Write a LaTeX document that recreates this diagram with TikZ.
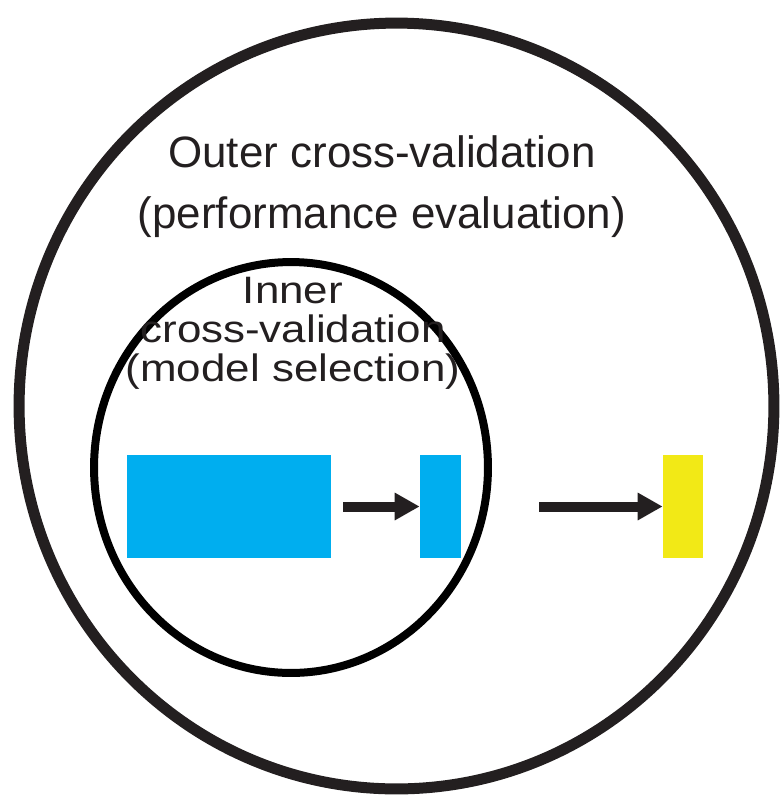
\documentclass[tikz,border=0pt]{standalone}
\usepackage{fontspec}
\setmainfont{Liberation Sans}
\usepackage{tikz}
\usetikzlibrary{arrows.meta,shapes.geometric,positioning}
\definecolor{cvblue}{RGB}{0,174,239}
\definecolor{cvyellow}{RGB}{242,233,22}
\definecolor{ink}{RGB}{35,31,32}
\tikzset{ring/.style={draw=ink, ellipse, inner sep=0},
  blk/.style={inner sep=0, minimum height=2.06cm},
  flow/.style={ink, line width=0.2cm, -{Triangle[length=0.5cm,width=0.52cm]}},
  lbl/.style={text=ink, inner sep=0, align=center, anchor=north, font=\fontsize{25}{34.7}\selectfont}}

\begin{document}
\begin{tikzpicture}[x=0.02cm, y=-0.02cm]
    \useasboundingbox (0,0) rectangle (782,796);

    % the two loops
    \node[ring, line width=0.22cm, minimum width=15.1cm, minimum height=15.32cm](outer) at (396.5,406) {};
    \node[ring, draw=black, line width=0.16cm, minimum width=7.88cm, minimum height=8.22cm](inner) at (291,467.5) {};

    \node[lbl](outertxt) at (382,135) {Outer cross-validation\\(performance evaluation)};
    % inner label is squeezed a bit in height
    \node[lbl, font=\fontsize{25}{25.2}\selectfont](innertxt) at (293,276)
      {\scalebox{1}[0.87]{\begin{tabular}{@{}c@{}}Inner\\cross-validation\\(model selection)\end{tabular}}};

    % data blocks
    \node[blk, fill=cvblue, minimum width=4.08cm](train) at (229,506.5) {};
    \node[blk, fill=cvblue, minimum width=0.82cm](best) at (440.5,506.5) {};
    \node[blk, fill=cvyellow, minimum width=0.8cm](test) at (683,506.5) {};

    \draw[flow, shorten <=0.24cm] (train) -- (best);
    \draw[flow, shorten <=1.56cm] (best) -- (test);
\end{tikzpicture}
\end{document}
